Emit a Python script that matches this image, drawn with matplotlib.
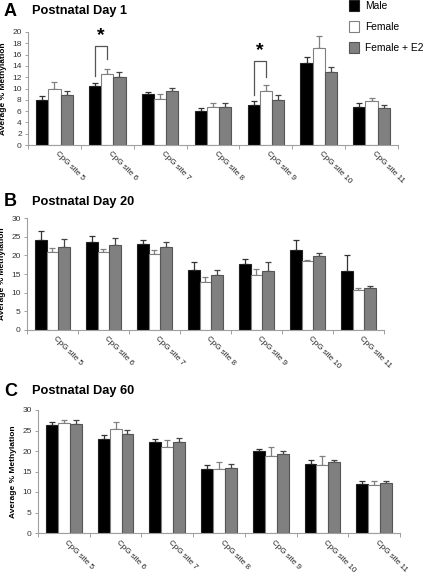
import matplotlib
matplotlib.use("Agg")
import matplotlib.pyplot as plt
import numpy as np

plt.rcParams['font.family'] = ['Liberation Sans', 'DejaVu Sans']

sites = ["CpG site 5", "CpG site 6", "CpG site 7", "CpG site 8", "CpG site 9", "CpG site 10", "CpG site 11"]
series_names = ["Male", "Female", "Female + E2"]

# Panel A: Postnatal Day 1
a_male = [8.0, 10.4, 9.0, 6.0, 7.1, 14.6, 6.8]
a_male_err = [0.6, 0.5, 0.3, 0.5, 0.6, 1.0, 0.6]
a_fem = [10.0, 12.5, 8.2, 6.7, 9.6, 17.2, 7.8]
a_fem_err = [1.2, 0.9, 0.8, 0.7, 1.0, 2.1, 0.5]
a_e2 = [8.8, 12.0, 9.6, 6.8, 8.0, 12.9, 6.6]
a_e2_err = [0.8, 0.9, 0.5, 0.55, 0.8, 0.9, 0.5]

# Panel B: Postnatal Day 20
b_male = [24.2, 23.6, 23.1, 16.2, 17.7, 21.5, 15.7]
b_male_err = [2.2, 1.6, 0.9, 2.0, 1.2, 2.5, 4.4]
b_fem = [20.8, 20.8, 20.4, 12.8, 14.8, 18.4, 10.8]
b_fem_err = [1.1, 0.8, 1.0, 1.5, 1.5, 0.4, 0.5]
b_e2 = [22.1, 22.9, 22.1, 14.6, 15.8, 19.9, 11.2]
b_e2_err = [2.3, 1.8, 1.5, 1.6, 2.4, 0.6, 0.5]

# Panel C: Postnatal Day 60
c_male = [26.3, 23.0, 22.1, 15.7, 20.0, 16.8, 12.0]
c_male_err = [0.8, 0.8, 0.9, 0.9, 0.4, 0.9, 0.6]
c_fem = [26.8, 25.4, 21.0, 15.5, 18.9, 16.7, 11.6]
c_fem_err = [0.8, 1.7, 1.7, 1.7, 2.1, 2.0, 1.1]
c_e2 = [26.6, 24.2, 22.3, 15.9, 19.3, 17.2, 12.3]
c_e2_err = [0.9, 0.9, 0.9, 0.9, 0.7, 0.6, 0.5]

W, H = 427, 575
fig = plt.figure(figsize=(W / 100, H / 100), dpi=100)

def ax_rect(l, r, b, t):
    return [l / W, 1 - b / H, (r - l) / W, (b - t) / H]

colors = ["black", "white", "#808080"]
edges = ["#222222", "#808080", "#555555"]
ecolors = ["#333333", "#808080", "#444444"]
spine_c = "#a0a0a0"
bw = 0.23

def draw_panel(rect, data, errs, ymax, ystep, letter, title, letter_xy):
    ax = fig.add_axes(rect)
    x = np.arange(len(sites)) + 0.5
    for k in range(3):
        ax.bar(x + (k - 1) * bw, data[k], width=bw, color=colors[k],
               edgecolor=edges[k], linewidth=0.8, zorder=2)
        ax.errorbar(x + (k - 1) * bw, data[k],
                    yerr=[np.zeros(len(sites)), errs[k]], fmt='none',
                    ecolor=ecolors[k], elinewidth=0.9, capsize=2.2,
                    capthick=0.9, zorder=1)
    ax.set_xlim(0, len(sites))
    ax.set_ylim(0, ymax)
    ax.set_yticks(np.arange(0, ymax + 0.01, ystep))
    ax.tick_params(axis='y', labelsize=6, length=2.5, width=0.7,
                   color=spine_c, pad=2, labelcolor="#333333")
    ax.set_xticks(np.arange(0, len(sites) + 1), minor=False)
    ax.set_xticklabels([])
    ax.tick_params(axis='x', which='major', length=3, width=0.7, color=spine_c)
    for i, s in enumerate(sites):
        ax.text(x[i] + 0.04, -0.07, s, transform=ax.get_xaxis_transform(),
                rotation=-45, rotation_mode='anchor', ha='left', va='center',
                fontsize=5.8, color="#222222")
    for sp in ['top', 'right']:
        ax.spines[sp].set_visible(False)
    for sp in ['left', 'bottom']:
        ax.spines[sp].set_color(spine_c)
        ax.spines[sp].set_linewidth(0.8)
    ax.set_ylabel("Average % Methylation", fontsize=6, fontweight='bold',
                  labelpad=4)
    fig.text(letter_xy[0] / W, 1 - letter_xy[1] / H, letter, fontsize=13,
             fontweight='bold', va='center', ha='left')
    fig.text((letter_xy[0] + 28) / W, 1 - letter_xy[1] / H, title,
             fontsize=9.2, fontweight='bold', va='center', ha='left')
    return ax

axA = draw_panel(ax_rect(28, 398, 145, 32), [a_male, a_fem, a_e2],
                 [a_male_err, a_fem_err, a_e2_err], 20, 2,
                 "A", "Postnatal Day 1", (4, 11))
axB = draw_panel(ax_rect(27, 384, 330, 218), [b_male, b_fem, b_e2],
                 [b_male_err, b_fem_err, b_e2_err], 30, 5,
                 "B", "Postnatal Day 20", (4, 202))
axC = draw_panel(ax_rect(38, 400, 533, 410), [c_male, c_fem, c_e2],
                 [c_male_err, c_fem_err, c_e2_err], 30, 5,
                 "C", "Postnatal Day 60", (4, 391))

# significance brackets in panel A
def bracket(ax, i, top, yl, yr, ystar):
    xl = i + 0.5 - bw
    xr = i + 0.5
    ax.plot([xl, xl, xr, xr], [yl, top, top, yr], color="#555555", lw=0.9,
            clip_on=False, zorder=3)
    ax.text((xl + xr) / 2, ystar, "*", ha='center', va='center',
            fontsize=14, fontweight='bold', clip_on=False)

bracket(axA, 1, 17.6, 12.2, 15.3, 19.4)
bracket(axA, 4, 14.8, 8.9, 12.0, 16.7)

# legend
leg_items = [("Male", "black", "#222222"), ("Female", "white", "#808080"),
             ("Female + E2", "#808080", "#555555")]
for j, (lab, fc, ec) in enumerate(leg_items):
    yc = 5.5 + j * 21
    fig.patches.append(plt.Rectangle((349 / W, 1 - (yc + 5.5) / H), 10 / W, 11 / H,
                                     transform=fig.transFigure, facecolor=fc,
                                     edgecolor=ec, linewidth=0.8))
    fig.text(365 / W, 1 - (yc + 0.5) / H, lab, fontsize=7.4, va='center', ha='left')

fig.savefig("out.png", dpi=100)
